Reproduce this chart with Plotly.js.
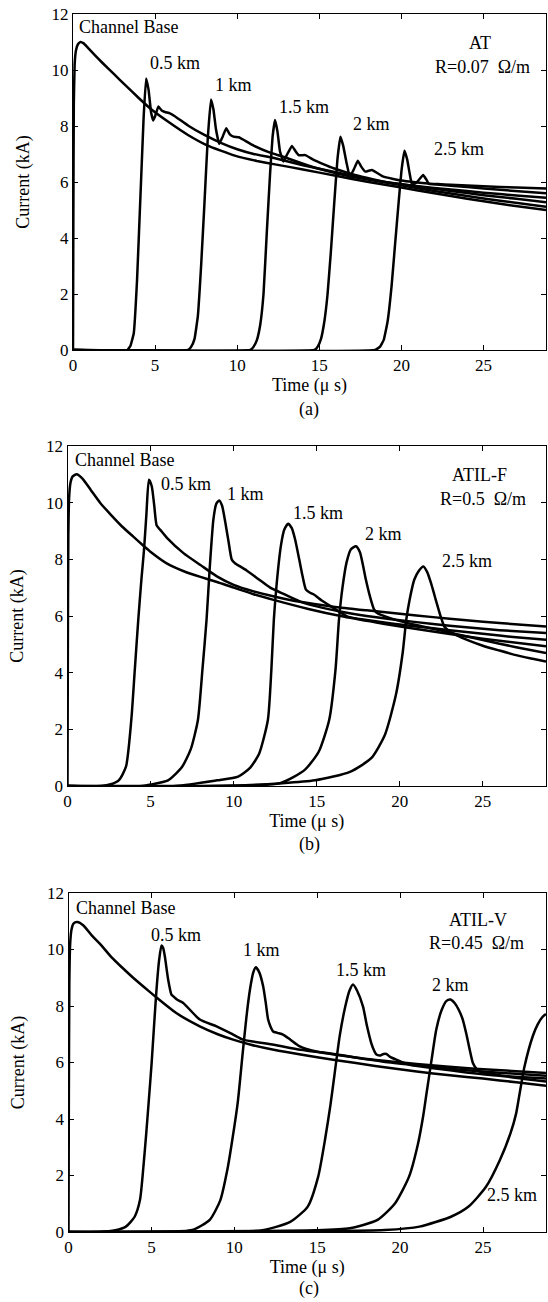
<!DOCTYPE html>
<html>
<head>
<meta charset="utf-8">
<script src="https://cdn.plot.ly/plotly-3.0.1.min.js"></script>
<style>html,body{margin:0;padding:0;background:#fff;}#chart{width:548px;height:1302px;}</style>
</head>
<body>
<div id="chart"></div>
<script>
// ---------- Panel (a): AT, R=0.07 ohm/m ----------
const aT_CB = [0,0.02,0.05,0.1,0.18,0.3,0.45,0.65,0.9,1.3,1.8,2.5,3.2,4.0,4.8,5.8,7.0,8.2,9.8,11.2,12.3,14.0,16.0,18.0,20.0,22.0,24.0,26.0,28.8];
const aI_CB = [0,4.5,8.8,10.2,10.7,10.92,11.0,10.95,10.8,10.55,10.25,9.85,9.45,9.0,8.58,8.15,7.68,7.3,6.95,6.75,6.63,6.45,6.22,6.0,5.8,5.6,5.4,5.22,5.0];
const aT_05 = [0,3.3,3.5,3.7,3.9,4.1,4.3,4.45,4.6,4.75,4.88,5.0,5.2,5.4,5.6,5.9,6.2,7.0,8.0,9.0,10.0,11.0,12.3,14.0,16.0,18.0,20.0,22.0,24.0,26.0,28.8];
const aI_05 = [0,0,0.15,0.6,2.5,5.4,8.3,9.7,9.3,8.5,8.2,8.35,8.7,8.55,8.5,8.45,8.35,8.02,7.68,7.4,7.17,7.0,6.85,6.6,6.35,6.1,5.88,5.68,5.5,5.33,5.12];
const aT_1 = [0,7.0,7.2,7.4,7.6,7.8,8.0,8.2,8.4,8.55,8.7,8.9,9.1,9.33,9.55,9.77,10.1,10.4,11.0,12.0,12.8,14.0,14.86,16.9,19.0,21.0,23.0,25.0,27.0,28.8];
const aI_1 = [0,0,0.12,0.4,1.2,3.0,5.2,7.5,8.95,8.6,7.9,7.36,7.6,7.92,7.7,7.62,7.6,7.5,7.3,7.05,6.9,6.65,6.49,6.2,6.0,5.84,5.68,5.53,5.4,5.28];
const aT_15 = [0,10.8,11.0,11.2,11.4,11.6,11.8,12.0,12.15,12.3,12.45,12.6,12.82,13.05,13.33,13.55,13.74,14.15,14.65,15.2,15.87,17.0,18.9,21.0,23.0,25.0,27.0,28.8];
const aI_15 = [0,0,0.12,0.36,0.9,2.0,4.2,6.3,7.6,8.21,7.8,7.1,6.73,7.0,7.29,7.1,6.96,6.96,6.79,6.65,6.49,6.28,6.01,5.85,5.73,5.62,5.52,5.44];
const aT_2 = [0,14.7,14.9,15.1,15.3,15.5,15.7,15.9,16.1,16.28,16.45,16.65,16.85,17.1,17.34,17.55,17.8,18.2,18.9,20.0,22.0,24.0,26.0,28.8];
const aI_2 = [0,0,0.12,0.4,1.0,2.0,3.5,5.2,6.8,7.62,7.3,6.7,6.19,6.45,6.76,6.55,6.37,6.43,6.19,6.05,5.92,5.82,5.72,5.6];
const aT_25 = [0,18.4,18.7,18.92,19.15,19.4,19.6,19.84,20.0,20.18,20.35,20.5,20.65,20.95,21.32,21.5,21.67,22.2,23.0,25.0,27.0,28.8];
const aI_25 = [0,0,0.12,0.36,1.0,2.3,3.7,5.36,6.4,7.12,6.8,6.3,5.89,6.0,6.25,6.1,5.93,5.93,5.9,5.85,5.8,5.77];

// ---------- Panel (b): ATIL-F, R=0.5 ohm/m ----------
const bT_CB = [0,0.02,0.05,0.1,0.18,0.3,0.55,0.9,1.4,1.96,2.6,3.3,3.96,4.57,4.97,6.0,7.0,8.0,9.0,10.0,11.2,12.4,14.5,16.6,19.0,22.0,25.0,28.8];
const bI_CB = [0,4.5,8.8,10.2,10.7,10.92,11.0,10.85,10.45,10.0,9.58,9.15,8.8,8.48,8.28,7.85,7.58,7.38,7.2,7.0,6.77,6.57,6.25,5.98,5.73,5.45,5.2,4.93];
const bT_05 = [0,2.0,2.6,3.1,3.52,3.84,4.05,4.26,4.45,4.6,4.75,4.9,5.07,5.22,5.37,5.57,6.0,6.98,8.0,8.99,10.0,11.2,12.44,14.0,16.0,18.0,20.0,22.0,24.0,26.0,28.8];
const bI_05 = [0,0,0.06,0.21,0.68,2.33,4.1,5.87,7.3,8.3,9.6,10.81,10.58,9.9,9.19,9.05,8.75,8.22,7.8,7.4,7.1,6.87,6.69,6.5,6.33,6.2,6.08,5.96,5.85,5.75,5.63];
const bT_1 = [0,4.5,5.0,6.05,6.9,7.42,7.85,8.12,8.37,8.55,8.78,8.95,9.13,9.3,9.5,9.7,9.89,10.1,10.39,10.8,11.5,12.2,13.0,14.0,15.0,16.4,18.0,20.0,22.0,24.0,26.0,28.8];
const bI_1 = [0,0,0.05,0.2,0.68,1.3,2.33,4.1,5.87,7.6,9.4,9.95,10.08,9.9,9.3,8.6,7.99,7.85,7.75,7.6,7.3,7.0,6.78,6.51,6.34,6.16,6.0,5.85,5.72,5.6,5.5,5.4];
const bT_15 = [0,6.5,9.0,10.27,11.0,11.54,12.06,12.27,12.42,12.6,12.85,13.05,13.28,13.5,13.7,13.95,14.15,14.35,14.6,14.85,15.3,15.86,16.86,18.0,19.5,21.0,23.0,25.0,27.0,28.8];
const bI_15 = [0,0,0.2,0.33,0.65,1.15,2.33,4.1,5.87,7.2,8.5,9.05,9.26,9.1,8.7,7.99,7.4,6.93,6.82,6.75,6.55,6.34,5.98,5.86,5.74,5.63,5.5,5.37,5.25,5.16];
const bT_2 = [0,9.0,12.8,14.28,15.12,15.75,16.13,16.34,16.55,16.8,17.05,17.36,17.6,17.96,18.2,18.46,18.66,19.2,20.07,21.0,22.0,23.5,25.0,27.0,28.8];
const bI_2 = [0,0,0.1,0.57,1.21,2.33,4.1,5.87,7.0,7.9,8.35,8.46,8.25,7.28,6.7,6.22,6.1,5.97,5.81,5.68,5.55,5.35,5.15,4.9,4.69];
const bT_25 = [0,10.7,14.9,17.0,18.28,19.1,19.76,20.18,20.39,20.6,20.87,21.15,21.42,21.65,21.88,22.08,22.28,22.48,22.68,22.9,23.5,24.2,25.0,26.0,27.0,28.0,28.8];
const bI_25 = [0,0.03,0.2,0.5,0.98,1.8,3.2,4.73,5.87,6.6,7.28,7.6,7.75,7.55,7.16,6.75,6.34,5.95,5.63,5.5,5.3,5.12,4.95,4.78,4.62,4.49,4.39];

// ---------- Panel (c): ATIL-V, R=0.45 ohm/m ----------
const cT_CB = [0,0.02,0.05,0.1,0.18,0.3,0.53,0.9,1.4,1.9,2.6,3.2,3.9,4.9,5.31,6.5,7.92,9.0,9.93,11.0,12.38,14.0,16.16,18.5,21.0,23.0,25.0,27.0,28.8];
const cI_CB = [0,4.5,8.8,10.2,10.7,10.92,10.97,10.85,10.5,10.2,9.72,9.38,9.0,8.5,8.3,7.75,7.28,7.0,6.81,6.63,6.45,6.28,6.08,5.88,5.68,5.55,5.43,5.3,5.18];
const cT_05 = [0,1.78,2.83,3.46,3.99,4.31,4.52,4.69,4.83,5.01,5.16,5.31,5.46,5.61,5.71,5.81,6.01,6.21,6.31,6.5,6.72,6.92,7.92,8.93,9.93,10.53,12.38,14.0,16.0,18.0,21.0,24.5,28.8];
const cI_05 = [0,0,0.06,0.19,0.54,1.13,2.32,3.5,4.55,5.95,7.3,8.6,9.6,10.14,10.05,9.76,8.94,8.4,8.35,8.25,8.17,8.11,7.52,7.28,6.99,6.81,6.63,6.45,6.3,6.12,5.95,5.78,5.63];
const cT_1 = [0,5.36,7.47,8.52,9.16,9.58,9.89,10.21,10.5,10.73,10.95,11.15,11.3,11.5,11.74,11.9,12.04,12.2,12.34,12.6,12.94,13.4,13.95,14.95,17.0,19.0,21.0,23.0,25.0,27.0,28.8];
const cI_1 = [0,0,0.07,0.43,1.13,2.2,3.3,4.6,6.3,7.6,8.6,9.2,9.37,9.2,8.7,8.1,7.52,7.25,7.1,7.05,6.99,6.8,6.57,6.39,6.2,6.03,5.9,5.78,5.68,5.6,5.53];
const cT_15 = [0,8.5,11.7,13.37,14.43,15.06,15.48,15.8,16.05,16.36,16.7,16.95,17.16,17.4,17.76,18.0,18.26,18.45,18.57,18.8,19.0,19.17,19.4,19.77,20.57,22.0,24.0,26.0,28.8];
const cI_15 = [0,0,0.06,0.36,0.9,1.96,3.3,4.5,5.6,6.95,8.0,8.55,8.76,8.55,7.99,7.3,6.69,6.4,6.28,6.25,6.3,6.3,6.2,6.1,5.92,5.8,5.65,5.53,5.43];
const cT_2 = [0,14.85,16.96,18.64,19.7,20.54,21.07,21.39,21.58,21.9,22.18,22.5,22.8,23.04,23.3,23.55,23.78,24.0,24.2,24.39,24.6,24.79,25.5,26.5,27.5,28.8];
const cI_2 = [0,0.06,0.13,0.43,1.02,1.96,3.1,4.1,4.85,6.1,7.16,7.85,8.18,8.23,8.1,7.85,7.52,7.0,6.45,5.98,5.78,5.68,5.6,5.5,5.42,5.33];
const cT_25 = [0,14.85,19.07,21.17,23.07,24.13,25.18,26.02,26.66,27.0,27.18,27.5,28.0,28.3,28.6,28.8];
const cI_25 = [0,0.03,0.07,0.19,0.54,0.9,1.6,2.55,3.5,4.2,4.8,5.85,6.93,7.35,7.62,7.72];

const xTicks = [0,5,10,15,20,25];
const yTicks = [0,2,4,6,8,10,12];
const distLabels = ['0.5 km','1 km','1.5 km','2 km','2.5 km'];

const FONT = '"Liberation Serif", "Times New Roman", Times, serif';
const panels = [
  {xa:'x', ya:'y', smooth:0.3, series:[[aT_CB,aI_CB],[aT_05,aI_05],[aT_1,aI_1],[aT_15,aI_15],[aT_2,aI_2],[aT_25,aI_25]]},
  {xa:'x2', ya:'y2', smooth:0.6, series:[[bT_CB,bI_CB],[bT_05,bI_05],[bT_1,bI_1],[bT_15,bI_15],[bT_2,bI_2],[bT_25,bI_25]]},
  {xa:'x3', ya:'y3', smooth:0.6, series:[[cT_CB,cI_CB],[cT_05,cI_05],[cT_1,cI_1],[cT_15,cI_15],[cT_2,cI_2],[cT_25,cI_25]]}
];
const names = ['Channel Base'].concat(distLabels);
const traces = [];
panels.forEach(p => {
  p.series.forEach((s, k) => {
    traces.push({x:s[0], y:s[1], type:'scatter', mode:'lines', name:names[k],
      xaxis:p.xa, yaxis:p.ya, showlegend:false, hoverinfo:'skip',
      line:{color:'#000', width:2.5, shape:'spline', smoothing:p.smooth}});
  });
});

const W = 548, H = 1302;
function xAxis(l, anchor) {
  return {domain:[l/W, 546/W], range:[0,28.8], anchor:anchor, tickvals:xTicks,
    ticks:'inside', ticklen:5, tickcolor:'#000', showline:true, linecolor:'#000', linewidth:1,
    mirror:'ticks', showgrid:false, zeroline:false, fixedrange:true,
    tickfont:{family:FONT, size:17, color:'#000'},
    title:{text:'Time (\u03bc s)', font:{family:FONT, size:18, color:'#000'}, standoff:2}};
}
function yAxis(top, bottom, anchor) {
  return {domain:[1-bottom/H, 1-top/H], range:[0,12], anchor:anchor, tickvals:yTicks,
    ticks:'inside', ticklen:5, tickcolor:'#000', showline:true, linecolor:'#000', linewidth:1,
    mirror:'ticks', showgrid:false, zeroline:false, fixedrange:true,
    tickfont:{family:FONT, size:17, color:'#000'},
    title:{text:'Current (kA)', font:{family:FONT, size:18, color:'#000'}, standoff:17}};
}

function ann(xref, yref, x, y, text, anchor) {
  return {xref:xref, yref:yref, x:x, y:y, text:text, showarrow:false,
    xanchor:anchor || 'center', yanchor:'middle',
    font:{family:FONT, size:18, color:'#000'}};
}
const annotations = [
  ann('x','y',0.24,11.55,'Channel Base','left'),
  ann('x','y',6.18,10.24,distLabels[0]),
  ann('x','y',9.76,9.46,distLabels[1]),
  ann('x','y',14.09,8.68,distLabels[2]),
  ann('x','y',18.18,8.07,distLabels[3]),
  ann('x','y',23.49,7.17,distLabels[4]),
  ann('x','y',24.76,10.97,'AT'),
  ann('x','y',24.94,10.12,'R=0.07\u00a0\u00a0\u03a9/m'),

  ann('x2','y2',0.31,11.52,'Channel Base','left'),
  ann('x2','y2',7.12,10.67,distLabels[0]),
  ann('x2','y2',10.69,10.32,distLabels[1]),
  ann('x2','y2',15.05,9.64,distLabels[2]),
  ann('x2','y2',19.04,8.9,distLabels[3]),
  ann('x2','y2',24.02,7.93,distLabels[4]),
  ann('x2','y2',24.79,10.99,'ATIL-F'),
  ann('x2','y2',25.03,10.13,'R=0.5\u00a0\u00a0\u03a9/m'),

  ann('x3','y3',0.33,11.48,'Channel Base','left'),
  ann('x3','y3',6.49,10.53,distLabels[0]),
  ann('x3','y3',11.66,9.98,distLabels[1]),
  ann('x3','y3',17.63,9.27,distLabels[2]),
  ann('x3','y3',23.01,8.73,distLabels[3]),
  ann('x3','y3',26.76,1.31,distLabels[4]),
  ann('x3','y3',24.67,11.03,'ATIL-V'),
  ann('x3','y3',24.61,10.24,'R=0.45\u00a0\u00a0\u03a9/m'),

  ann('paper','paper',309/W,1-409/H,'(a)'),
  ann('paper','paper',309/W,1-845/H,'(b)'),
  ann('paper','paper',309/W,1-1288/H,'(c)')
];

const layout = {
  width:W, height:H, margin:{l:0,r:0,t:0,b:0},
  paper_bgcolor:'#fff', plot_bgcolor:'#fff', showlegend:false,
  font:{family:FONT, color:'#000'},
  xaxis:xAxis(73,'y'), yaxis:yAxis(14,350,'x'),
  xaxis2:xAxis(67.5,'y2'), yaxis2:yAxis(446,786,'x2'),
  xaxis3:xAxis(68.5,'y3'), yaxis3:yAxis(893,1232,'x3'),
  annotations:annotations
};
Plotly.newPlot('chart', traces, layout, {staticPlot:true, displayModeBar:false});
</script>
</body>
</html>
